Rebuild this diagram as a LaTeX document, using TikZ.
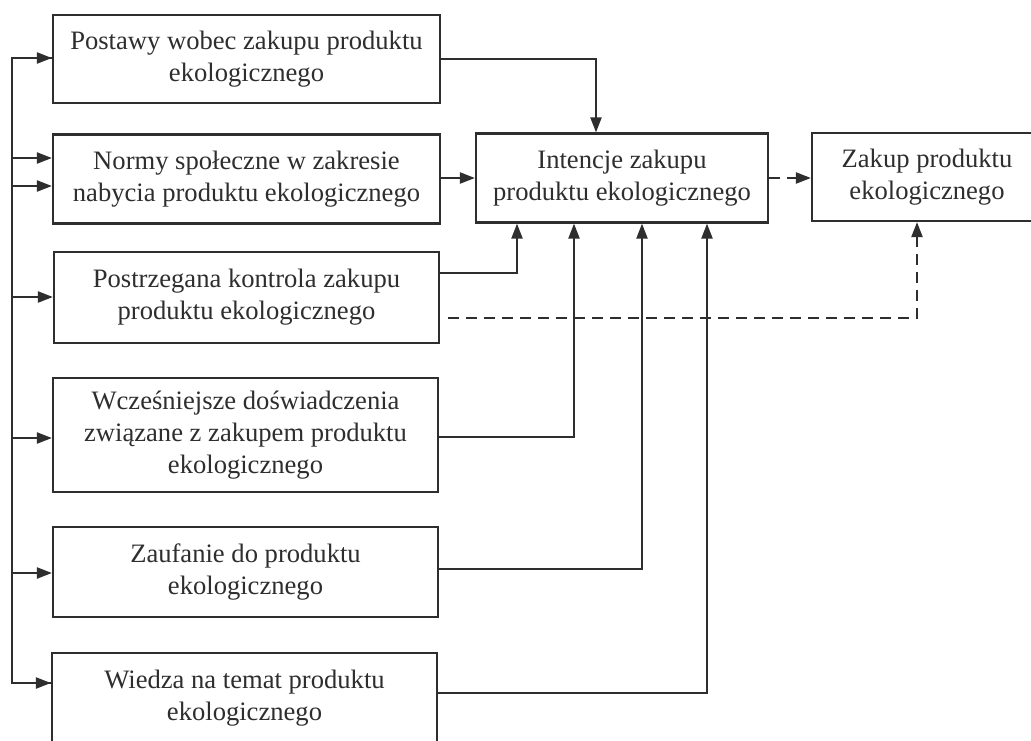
\documentclass[tikz,border=0pt]{standalone}
\usepackage{fontspec}
\setmainfont{Liberation Serif}
\usetikzlibrary{arrows.meta}
\definecolor{ink}{HTML}{2e2e2e}
\begin{document}
\begin{tikzpicture}[x=1pt,y=-1pt,
  box/.style={draw=ink,line width=2.2pt,rectangle,inner sep=0pt,align=center,text=ink,
    font=\fontsize{26.6}{32}\selectfont},
  conn/.style={draw=ink,line width=2.2pt},
  arr/.style={conn,-{Triangle[length=15pt,width=11pt]}},
  darr/.style={arr,dash pattern=on 11pt off 7pt},
  dline/.style={conn,dash pattern=on 11pt off 7pt}]
\useasboundingbox (0,0) rectangle (1031,740);
\fill[white] (0,0) rectangle (1031,740);
\clip (0,0) rectangle (1031,740);
% boxes
\node[box,minimum width=387pt,minimum height=88pt] (p1) at (246.5,59) {Postawy wobec zakupu produktu\\ekologicznego};
\node[box,minimum width=387pt,minimum height=89pt] (p2) at (246.5,179) {Normy społeczne w zakresie\\nabycia produktu ekologicznego};
\node[box,minimum width=385pt,minimum height=91pt] (p3) at (246.5,297.5) {Postrzegana kontrola zakupu\\produktu ekologicznego};
\node[box,minimum width=385pt,minimum height=114pt] (p4) at (245.5,435) {Wcześniejsze doświadczenia\\związane z zakupem produktu\\ekologicznego};
\node[box,minimum width=385pt,minimum height=90pt] (p5) at (245.5,572) {Zaufanie do produktu\\ekologicznego};
\node[box,minimum width=385pt,minimum height=90pt] (p6) at (244.5,698) {Wiedza na temat produktu\\ekologicznego};
\node[box,minimum width=292pt,minimum height=89pt] (int) at (622,178) {Intencje zakupu\\produktu ekologicznego};
\node[box,minimum width=230pt,minimum height=88pt] (zak) at (927,177) {Zakup produktu\\ekologicznego};
% bus coordinates
\coordinate (b1) at (12,58);
\coordinate (b2) at (12,158);
\coordinate (b3) at (12,186);
\coordinate (b4) at (12,297);
\coordinate (b5) at (12,438);
\coordinate (b6) at (12,573);
\coordinate (b7) at (12,683);
\draw[conn,line join=miter] (p1.west |- b1) -- (b1) -- (b7) -- (p6.west |- b7);
\draw[arr] (b1) -- (p1.west |- b1);
\draw[arr] (b2) -- (p2.west |- b2);
\draw[arr] (b3) -- (p2.west |- b3);
\draw[arr] (b4) -- (p3.west |- b4);
\draw[arr] (b5) -- (p4.west |- b5);
\draw[arr] (b6) -- (p5.west |- b6);
\draw[arr] (b7) -- (p6.west |- b7);
% connectors to Intencje
\coordinate (c1) at (596,59);
\coordinate (c3) at (517,273);
\coordinate (c4) at (574,437);
\coordinate (c5) at (642,569);
\coordinate (c6) at (707,693);
\draw[arr] (p1.east) -| (int.north -| c1);
\draw[arr] (p2.east |- int.west) -- (int.west);
\draw[arr] (p3.east |- c3) -| (int.south -| c3);
\draw[arr] (p4.east |- c4) -| (int.south -| c4);
\draw[arr] (p5.east |- c5) -| (int.south -| c5);
\draw[arr] (p6.east |- c6) -| (int.south -| c6);
% dashed
\coordinate (d1) at (917,318);
\draw[darr] (int.east) -- (zak.west |- int.east);
\draw[darr] ([xshift=8pt]p3.east |- d1) -| (zak.south -| d1);
\end{tikzpicture}
\end{document}
